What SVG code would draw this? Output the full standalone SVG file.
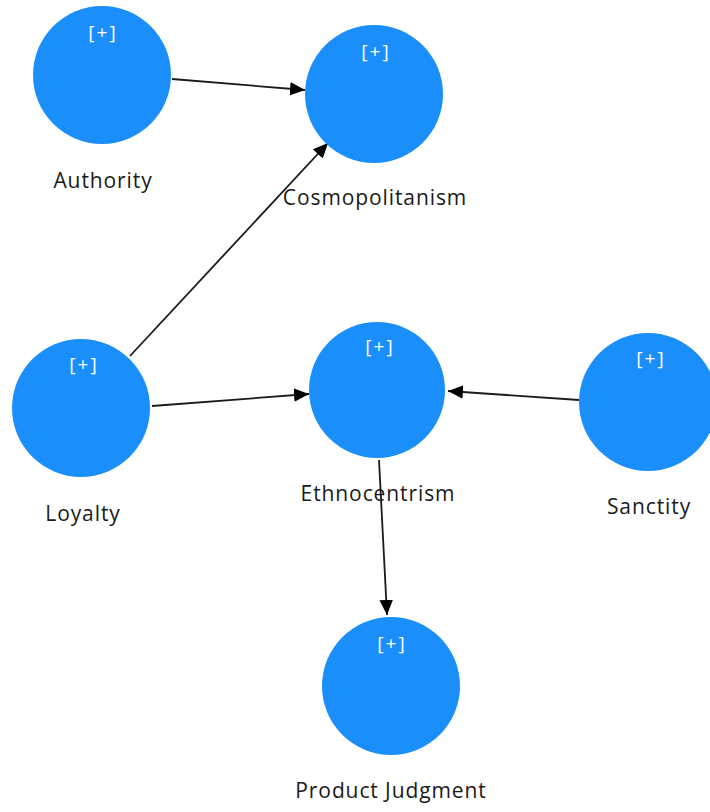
<svg xmlns="http://www.w3.org/2000/svg" width="710" height="812" viewBox="0 0 710 812">
<defs>
<style>
.node circle{fill:#1a8ffb;}
.plus{font-family:"Open Sans","Noto Sans",sans-serif;font-size:19px;letter-spacing:2px;fill:#ffffff;text-anchor:middle;}
.label{font-family:"Open Sans","Noto Sans",sans-serif;font-size:21px;letter-spacing:0.9px;fill:#1a1a1a;text-anchor:middle;}
.edge{stroke:#1a1a1a;stroke-width:1.8;fill:none;marker-end:url(#arr);}
</style>
<marker id="arr" viewBox="0 0 10 10" refX="10" refY="5" markerWidth="15" markerHeight="15" markerUnits="userSpaceOnUse" orient="auto">
<path d="M0,0.5 L10,5 L0,9.5 z" fill="#000"/>
</marker>
</defs>
<rect width="710" height="812" fill="#ffffff"/>
<g id="connectors">
<line class="edge" x1="172" y1="79" x2="305" y2="90"/>
<line class="edge" x1="130" y1="356" x2="328" y2="143"/>
<line class="edge" x1="152" y1="406" x2="309" y2="394"/>
<line class="edge" x1="579" y1="400" x2="448" y2="391"/>
<line class="edge" x1="379" y1="460" x2="387" y2="615"/>
</g>
<g id="authority" class="node">
<circle cx="102" cy="75" r="69"/>
<text class="plus" x="103" y="39">[+]</text>
<text class="label" x="103" y="188">Authority</text>
</g>
<g id="cosmopolitanism" class="node">
<circle cx="374" cy="94" r="69"/>
<text class="plus" x="376" y="58">[+]</text>
<text class="label" x="375" y="205">Cosmopolitanism</text>
</g>
<g id="loyalty" class="node">
<circle cx="81" cy="408" r="69"/>
<text class="plus" x="84" y="371">[+]</text>
<text class="label" x="83" y="521">Loyalty</text>
</g>
<g id="ethnocentrism" class="node">
<circle cx="377" cy="390" r="68"/>
<text class="plus" x="380" y="353">[+]</text>
<text class="label" x="378" y="501">Ethnocentrism</text>
</g>
<g id="sanctity" class="node">
<circle cx="648" cy="402" r="69"/>
<text class="plus" x="651" y="365">[+]</text>
<text class="label" x="649" y="514">Sanctity</text>
</g>
<g id="product-judgment" class="node">
<circle cx="391" cy="686" r="69"/>
<text class="plus" x="392" y="650">[+]</text>
<text class="label" x="391" y="798">Product Judgment</text>
</g>
</svg>
